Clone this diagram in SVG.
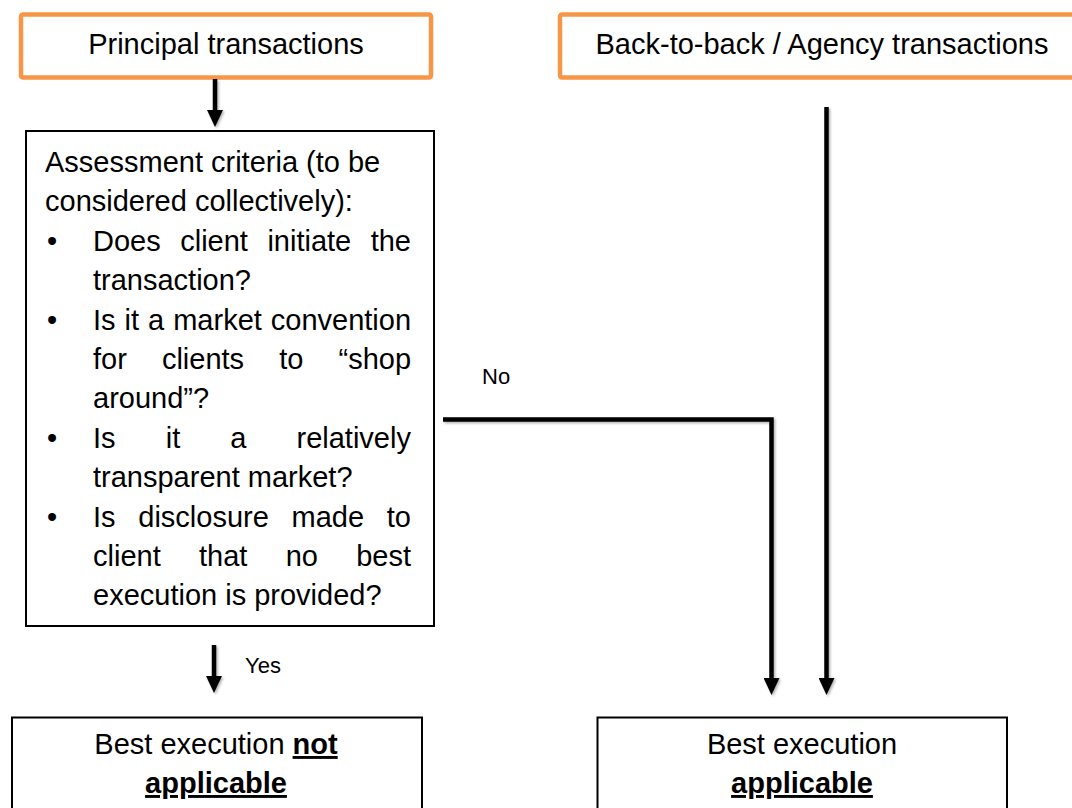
<svg xmlns="http://www.w3.org/2000/svg" width="1072" height="808" viewBox="0 0 1072 808">
<style>
  text { font-family: "Liberation Sans", Arial, sans-serif; fill: #000; }
  .t { font-size: 29px; }
  .lbl { font-size: 22px; }
  .c { text-anchor: middle; }
  .b { font-weight: bold; text-decoration: underline; }
  .orange { fill: #fff; stroke: #F79646; stroke-width: 4.5; }
  .box { fill: #fff; stroke: #000; stroke-width: 2; }
  .conn { fill: none; stroke: #000; stroke-width: 4.5; stroke-linejoin: miter; marker-end: url(#ah); }
</style>
<defs>
  <marker id="ah" markerUnits="userSpaceOnUse" viewBox="0 0 17 16" markerWidth="17" markerHeight="16" refX="5" refY="8" orient="auto">
    <path d="M0,0 L17,8 L0,16 z" fill="#000"/>
  </marker>
  <filter id="sh" x="-20%" y="-20%" width="140%" height="140%">
    <feDropShadow dx="1.5" dy="1.5" stdDeviation="1" flood-color="#000" flood-opacity="0.3"/>
  </filter>
</defs>
<rect width="1072" height="808" fill="#fff"/>

<g id="principal">
  <rect class="orange" x="21" y="14.5" width="410" height="63" rx="2"/>
  <text class="t c" x="226" y="54">Principal transactions</text>
</g>

<g id="agency">
  <rect class="orange" x="560" y="14.5" width="524" height="63" rx="2"/>
  <text class="t c" x="822" y="54">Back-to-back / Agency transactions</text>
</g>

<g id="criteria">
  <rect class="box" x="26" y="131" width="408" height="495"/>
  <text class="t" x="45" y="172">Assessment criteria (to be</text>
  <text class="t" x="45" y="211.4">considered collectively):</text>

  <text class="t" x="47" y="250.8">•</text>
  <text class="t" y="250.8"><tspan x="93">Does</tspan><tspan x="180.2">client</tspan><tspan x="267.4">initiate</tspan><tspan x="370.7">the</tspan></text>
  <text class="t" x="93" y="290.2">transaction?</text>

  <text class="t" x="47" y="329.6">•</text>
  <text class="t" y="329.6"><tspan x="93">Is</tspan><tspan x="124.6">it</tspan><tspan x="148.1">a</tspan><tspan x="173.2">market</tspan><tspan x="270.8">convention</tspan></text>
  <text class="t" y="369"><tspan x="93">for</tspan><tspan x="161.9">clients</tspan><tspan x="279.2">to</tspan><tspan x="338.5">“shop</tspan></text>
  <text class="t" x="93" y="408.4">around”?</text>

  <text class="t" x="47" y="447.8">•</text>
  <text class="t" y="447.8"><tspan x="93">Is</tspan><tspan x="165.7">it</tspan><tspan x="230.3">a</tspan><tspan x="296.5">relatively</tspan></text>
  <text class="t" x="93" y="487.2">transparent market?</text>

  <text class="t" x="47" y="526.6">•</text>
  <text class="t" y="526.6"><tspan x="93">Is</tspan><tspan x="138.3">disclosure</tspan><tspan x="291.5">made</tspan><tspan x="386.7">to</tspan></text>
  <text class="t" y="566"><tspan x="93">client</tspan><tspan x="199">that</tspan><tspan x="285.7">no</tspan><tspan x="356.2">best</tspan></text>
  <text class="t" x="93" y="605.4">execution is provided?</text>
</g>

<g id="not-applicable">
  <rect class="box" x="12" y="717.5" width="410" height="120"/>
  <text class="t c" x="216" y="754">Best execution <tspan class="b">not</tspan></text>
  <text class="t c b" x="216" y="793">applicable</text>
</g>

<g id="applicable">
  <rect class="box" x="597.5" y="717.5" width="409.5" height="120"/>
  <text class="t c" x="802" y="754">Best execution</text>
  <text class="t c b" x="802" y="793">applicable</text>
</g>

<g id="connectors" filter="url(#sh)">
  <path class="conn" d="M215 79 V115"/>
  <path class="conn" d="M826.5 107 V683"/>
  <path class="conn" d="M443 419.5 H771.5 V683"/>
  <path class="conn" d="M214 645 V681"/>
</g>

<g id="labels">
  <text class="lbl" x="482" y="384">No</text>
  <text class="lbl" x="245" y="673">Yes</text>
</g>
</svg>
